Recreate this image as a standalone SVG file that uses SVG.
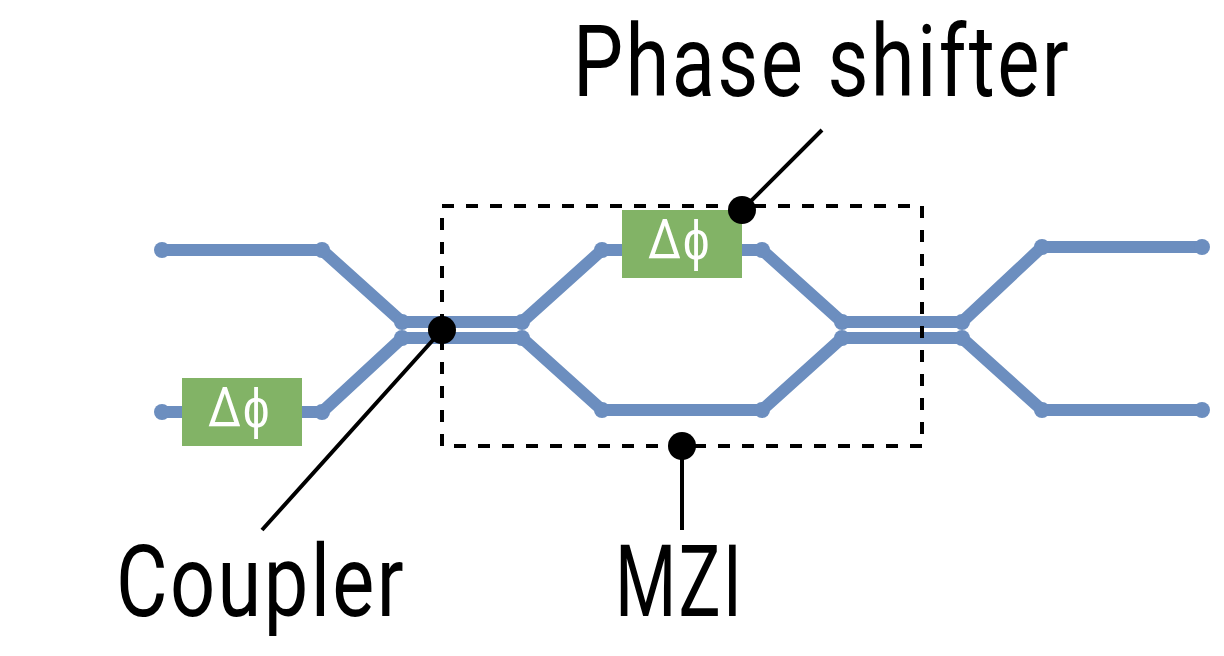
<svg xmlns="http://www.w3.org/2000/svg" width="1224" height="656" viewBox="0 0 1224 656">
<style>
.w{fill:none;stroke:#6c8ebf;stroke-width:12;stroke-linejoin:round}
.d{fill:#6c8ebf}
.l{fill:none;stroke:#000;stroke-width:4}
.b{fill:#000}
.t{font-family:"Roboto","Open Sans",sans-serif;fill:#000;font-size:100px;letter-spacing:3px}
.p{fill:#82b366}
.f{font-family:"Roboto","Open Sans",sans-serif;fill:#fff;font-size:56px;letter-spacing:2px}
</style>
<rect width="1224" height="656" fill="#fff"/>
<g id="connectors">
<path class="w" d="M162 250H322L402 322H522L602 250H762L842 322H962L1042 247H1202"/>
<path class="w" d="M162 412H322L402 338H522L602 410H762L842 338H962L1042 410H1202"/>
<g class="d">
<circle cx="162" cy="250" r="8"/><circle cx="322" cy="250" r="8"/><circle cx="402" cy="322" r="8"/><circle cx="522" cy="322" r="8"/><circle cx="602" cy="250" r="8"/><circle cx="762" cy="250" r="8"/><circle cx="842" cy="322" r="8"/><circle cx="962" cy="322" r="8"/><circle cx="1042" cy="247" r="8"/><circle cx="1202" cy="247" r="8"/>
<circle cx="162" cy="412" r="8"/><circle cx="322" cy="412" r="8"/><circle cx="402" cy="338" r="8"/><circle cx="522" cy="338" r="8"/><circle cx="602" cy="410" r="8"/><circle cx="762" cy="410" r="8"/><circle cx="842" cy="338" r="8"/><circle cx="962" cy="338" r="8"/><circle cx="1042" cy="410" r="8"/><circle cx="1202" cy="410" r="8"/>
</g>
<path class="l" d="M262 530L442 330M682 446V530M742 210L822 130"/>
</g>
<g id="mzi"><rect x="442" y="206" width="480" height="240" fill="none" stroke="#000" stroke-width="4" stroke-dasharray="12 12"/></g>
<g id="shifter-top"><rect class="p" x="622" y="210" width="120" height="68"/><text class="f" x="648" y="259" textLength="63" lengthAdjust="spacingAndGlyphs">Δϕ</text></g>
<g id="shifter-left"><rect class="p" x="182" y="378" width="120" height="68"/><text class="f" x="208" y="427" textLength="63" lengthAdjust="spacingAndGlyphs">Δϕ</text></g>
<g id="dots"><circle class="b" cx="442" cy="330" r="14"/><circle class="b" cx="742" cy="210" r="14"/><circle class="b" cx="682" cy="446" r="14"/></g>
<g id="labels">
<text class="t" x="573" y="96" textLength="498" lengthAdjust="spacingAndGlyphs">Phase shifter</text>
<text class="t" x="116" y="616" textLength="290" lengthAdjust="spacingAndGlyphs">Coupler</text>
<text class="t" x="615" y="616" textLength="129" lengthAdjust="spacingAndGlyphs">MZI</text>
</g>
</svg>
